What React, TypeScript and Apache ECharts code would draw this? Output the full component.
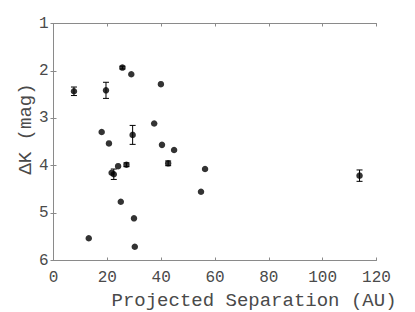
import React, { useEffect, useRef } from "react";
import * as echarts from "echarts";

const sepAU = [7.6, 19.5, 25.6, 28.9, 39.9, 17.9, 20.6, 29.4, 37.4, 40.3, 44.8, 21.6, 22.4, 24.0, 27.1, 42.6, 56.3, 54.8, 25.0, 29.9, 13.1, 30.2, 113.7];
const deltaK = [2.43, 2.41, 1.93, 2.07, 2.28, 3.29, 3.53, 3.35, 3.11, 3.56, 3.67, 4.15, 4.18, 4.01, 3.98, 3.95, 4.07, 4.55, 4.76, 5.11, 5.53, 5.71, 4.21];
const deltaKErr = [0.09, 0.17, 0.03, 0, 0, 0, 0, 0.2, 0, 0, 0, 0, 0.11, 0, 0.04, 0.05, 0, 0, 0, 0, 0, 0, 0.12];
const xTicks = [0, 20, 40, 60, 80, 100, 120];
const yTicks = [1, 2, 3, 4, 5, 6];

const FONT = "'Liberation Mono', 'DejaVu Sans Mono', monospace";
const TEXT = "#4a4a4a";

export default function App() {
  const ref = useRef<HTMLDivElement>(null);
  useEffect(() => {
    if (!ref.current) return;
    const chart = echarts.init(ref.current, undefined, { renderer: "svg" });
    const pts = sepAU.map((x, i) => [x, deltaK[i]]);
    const errs = sepAU.map((x, i) => [x, deltaK[i], deltaKErr[i]]).filter((d) => d[2] > 0);
    const axisLine = { show: true, lineStyle: { color: "#8a8a8a", width: 1 } };
    const tick = { show: true, inside: true, length: 3, lineStyle: { color: "#8a8a8a" } };
    const labelStyle = { fontFamily: FONT, fontSize: 16, color: TEXT };
    chart.setOption({
      animation: false,
      grid: { left: 53.5, top: 23.5, right: 38.5, bottom: 51.5 },
      xAxis: [
        {
          type: "value", min: xTicks[0], max: xTicks[xTicks.length - 1], interval: 20,
          axisLine, axisTick: tick, splitLine: { show: false },
          axisLabel: { ...labelStyle, margin: 9 },
        },
        {
          type: "value", position: "top", min: xTicks[0], max: xTicks[xTicks.length - 1], interval: 20,
          axisLine, axisTick: tick, splitLine: { show: false }, axisLabel: { show: false },
        },
      ],
      yAxis: [
        {
          type: "value", inverse: true, min: yTicks[0], max: yTicks[yTicks.length - 1], interval: 1,
          axisLine, axisTick: tick, splitLine: { show: false },
          axisLabel: { ...labelStyle, margin: 5 },
        },
        {
          type: "value", position: "right", inverse: true, min: yTicks[0], max: yTicks[yTicks.length - 1], interval: 1,
          axisLine, axisTick: tick, splitLine: { show: false }, axisLabel: { show: false },
        },
      ],
      graphic: [
        {
          type: "text", x: 254, y: 301,
          style: { text: "Projected Separation (AU)", fontFamily: FONT, fontSize: 19, fill: TEXT, align: "center", verticalAlign: "middle" },
        },
        {
          type: "text", x: 26, y: 129, rotation: Math.PI / 2,
          style: { text: "ΔK (mag)", fontFamily: FONT, fontSize: 19, fill: TEXT, align: "center", verticalAlign: "middle" },
        },
      ],
      series: [
        {
          type: "custom",
          data: errs,
          renderItem: (params: any, api: any) => {
            const x = api.value(0), y = api.value(1), e = api.value(2);
            const a = api.coord([x, y - e]);
            const b = api.coord([x, y + e]);
            const w = 3;
            const st = { stroke: "#000", lineWidth: 1 };
            return {
              type: "group",
              children: [
                { type: "line", shape: { x1: a[0], y1: a[1], x2: b[0], y2: b[1] }, style: st },
                { type: "line", shape: { x1: a[0] - w, y1: a[1], x2: a[0] + w, y2: a[1] }, style: st },
                { type: "line", shape: { x1: b[0] - w, y1: b[1], x2: b[0] + w, y2: b[1] }, style: st },
              ],
            };
          },
          z: 2,
        },
        {
          type: "scatter",
          data: pts,
          symbol: "circle",
          symbolSize: 6.5,
          itemStyle: { color: "#000" },
          z: 3,
        },
      ],
    });
    return () => chart.dispose();
  }, []);
  return <div ref={ref} style={{ width: 415, height: 312, position: "absolute", left: 0, top: 0 }} />;
}
